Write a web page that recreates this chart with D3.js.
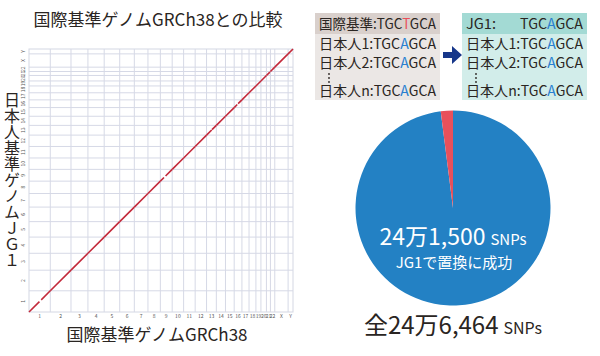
<!DOCTYPE html>
<html>
<head>
<meta charset="utf-8">
<script src="https://cdn.jsdelivr.net/npm/d3@7"></script>
<style>
  body { margin: 0; background: #fff; }
  svg { display: block; font-family: "Noto Sans CJK JP", "Noto Sans", sans-serif; }
</style>
</head>
<body>
<div id="chart"></div>
<script>
// GRCh38 vs JG1 dot plot + SNP replacement pie

// chromosome names and lengths (Mb)
const chromosomes = ["1","2","3","4","5","6","7","8","9","10","11","12",
                     "13","14","15","16","17","18","19","20","21","22","X","Y"];
const chromLengths = [248.96, 242.19, 198.30, 190.21, 181.54, 170.81, 159.35, 145.14,
                      138.39, 133.80, 135.09, 133.28, 114.36, 107.04, 101.99, 90.34,
                      83.26, 80.37, 58.62, 64.44, 46.71, 50.82, 156.04, 57.23];
// unaligned stretches on the diagonal: [chromosome, start Mb, end Mb]
const alignGaps = [["1", 122, 143], ["9", 43, 61], ["13", 60, 64], ["16", 36, 46], ["21", 40, 44]];

// pie
const pieLabels = ["置換に成功", "その他"];
const pieValues = [241500, 4964];

// sequence boxes
const refRows = [
  { name: "国際基準:", seq: ["TGC", "T", "GCA"], hl: "#e8505b" },
  { name: "日本人1:",  seq: ["TGC", "A", "GCA"], hl: "#2a7fd0" },
  { name: "日本人2:",  seq: ["TGC", "A", "GCA"], hl: "#2a7fd0" },
  { name: "日本人n:",  seq: ["TGC", "A", "GCA"], hl: "#2a7fd0" }
];
const jgRows = [
  { name: "JG1:",     seq: ["TGC", "A", "GCA"], hl: "#2a7fd0" },
  { name: "日本人1:",  seq: ["TGC", "A", "GCA"], hl: "#2a7fd0" },
  { name: "日本人2:",  seq: ["TGC", "A", "GCA"], hl: "#2a7fd0" },
  { name: "日本人n:",  seq: ["TGC", "A", "GCA"], hl: "#2a7fd0" }
];

const width = 600, height = 356;
const svg = d3.select("#chart").append("svg")
  .attr("width", width).attr("height", height);

const ink = "#2a2522";

// ── Dot plot ────────────────────────────────────────────────────────────
const cum = [0];
chromLengths.forEach((l, i) => cum.push(cum[i] + l));
const total = cum[cum.length - 1];

const x = d3.scaleLinear().domain([0, total]).range([29, 293]);
const y = d3.scaleLinear().domain([0, total]).range([312, 49]);

const plot = svg.append("g");

plot.append("rect")
  .attr("x", x(0)).attr("y", y(total))
  .attr("width", x(total) - x(0)).attr("height", y(0) - y(total))
  .attr("fill", "#fff").attr("stroke", "#d4d7e3").attr("stroke-width", 1);

const bounds = cum.slice(1, -1);
plot.selectAll(".vgrid").data(bounds).join("line")
  .attr("x1", d => x(d)).attr("x2", d => x(d))
  .attr("y1", y(0)).attr("y2", y(total))
  .attr("stroke", "#d6d9e6").attr("stroke-width", 1);
plot.selectAll(".hgrid").data(bounds).join("line")
  .attr("y1", d => y(d)).attr("y2", d => y(d))
  .attr("x1", x(0)).attr("x2", x(total))
  .attr("stroke", "#d6d9e6").attr("stroke-width", 1);

// tick labels at chromosome midpoints
plot.selectAll(".xt").data(chromosomes).join("text")
  .attr("x", (d, i) => x(cum[i] + chromLengths[i] / 2))
  .attr("y", 318)
  .attr("text-anchor", "middle")
  .attr("font-size", 5)
  .attr("fill", "#555")
  .text(d => d);
plot.selectAll(".yt").data(chromosomes).join("text")
  .attr("transform", (d, i) => `translate(25, ${y(cum[i] + chromLengths[i] / 2)}) rotate(-90)`)
  .attr("text-anchor", "middle")
  .attr("font-size", 5)
  .attr("fill", "#555")
  .text(d => d);

// aligned blocks = each chromosome minus its gaps
const blocks = [];
chromosomes.forEach((c, i) => {
  const gaps = alignGaps.filter(g => g[0] === c).sort((a, b) => a[1] - b[1]);
  let s = 0;
  gaps.forEach(g => { blocks.push([cum[i] + s, cum[i] + g[1]]); s = g[2]; });
  blocks.push([cum[i] + s, cum[i] + chromLengths[i]]);
});

plot.selectAll(".blk").data(blocks).join("line")
  .attr("x1", d => x(d[0])).attr("y1", d => y(d[0]))
  .attr("x2", d => x(d[1])).attr("y2", d => y(d[1]))
  .attr("stroke", "#c3293a").attr("stroke-width", 1.6);

svg.append("text")
  .attr("x", 158).attr("y", 26)
  .attr("text-anchor", "middle")
  .attr("font-size", 17).attr("fill", ink)
  .text("国際基準ゲノムGRCh38との比較");

svg.append("text")
  .attr("x", 157).attr("y", 341)
  .attr("text-anchor", "middle")
  .attr("font-size", 17).attr("fill", ink)
  .text("国際基準ゲノムGRCh38");

// vertical axis title, one text in vertical writing mode
svg.append("text")
  .attr("x", 12).attr("y", 92)
  .style("writing-mode", "vertical-rl")
  .style("text-orientation", "upright")
  .attr("font-size", 16).attr("fill", ink)
  .text("日本人基準ゲノムＪＧ１");

// ── Sequence boxes ──────────────────────────────────────────────────────
const rowBase = [29, 49, 68, 96];
const fs = 14;

function seqBox(x0, w, headFill, bodyFill, rows, right) {
  const g = svg.append("g");
  g.append("rect").attr("x", x0).attr("y", 13).attr("width", w).attr("height", 87).attr("fill", bodyFill);
  g.append("rect").attr("x", x0).attr("y", 13).attr("width", w).attr("height", 21).attr("fill", headFill);
  rows.forEach((r, i) => {
    if (right && i === 0) {
      g.append("text").attr("x", x0 + 4).attr("y", rowBase[i])
        .attr("font-size", fs).attr("fill", ink)
        .attr("textLength", 30).attr("lengthAdjust", "spacingAndGlyphs")
        .text(r.name);
      const t = g.append("text").attr("x", x0 + 58).attr("y", rowBase[i])
        .attr("font-size", fs).attr("fill", ink)
        .attr("textLength", 63).attr("lengthAdjust", "spacingAndGlyphs");
      t.append("tspan").text(r.seq[0]);
      t.append("tspan").attr("fill", r.hl).text(r.seq[1]);
      t.append("tspan").text(r.seq[2]);
      return;
    }
    const t = g.append("text").attr("x", x0 + 4).attr("y", rowBase[i])
      .attr("font-size", fs).attr("fill", ink)
      .attr("textLength", 117).attr("lengthAdjust", "spacingAndGlyphs");
    t.append("tspan").text(r.name);
    t.append("tspan").text(r.seq[0]);
    t.append("tspan").attr("fill", r.hl).text(r.seq[1]);
    t.append("tspan").text(r.seq[2]);
  });
  // vertical ellipsis
  g.selectAll(".dot").data([74, 78, 82]).join("circle")
    .attr("cx", x0 + 14).attr("cy", d => d).attr("r", 0.9).attr("fill", ink);
}

seqBox(315, 125, "#d9d0cc", "#ebe7e5", refRows, false);
seqBox(462, 125, "#a3dad4", "#d2edea", jgRows, true);

// arrow
svg.append("path")
  .attr("d", "M443,52 L452,52 L452,46 L462,55 L452,64 L452,58 L443,58 Z")
  .attr("fill", "#17378a");

// ── Pie ─────────────────────────────────────────────────────────────────
const pieData = d3.pie().sort(null)(pieValues);
const arc = d3.arc().innerRadius(0).outerRadius(97.5);
const pieColor = d3.scaleOrdinal().domain(pieLabels).range(["#2381c4", "#e8505b"]);

const pie = svg.append("g").attr("transform", "translate(453, 208)");
pie.selectAll("path").data(pieData).join("path")
  .attr("d", arc)
  .attr("fill", (d, i) => pieColor(pieLabels[i]));

const fmt = d => {
  const man = Math.floor(d / 10000);
  return man + "万" + d3.format(",")(d % 10000);
};

const t1 = svg.append("text").attr("x", 453).attr("y", 245)
  .attr("text-anchor", "middle").attr("fill", "#fff");
t1.append("tspan").attr("font-size", 23).text(fmt(pieValues[0]));
t1.append("tspan").attr("font-size", 15).attr("dx", 5).text("SNPs");

svg.append("text").attr("x", 454).attr("y", 268)
  .attr("text-anchor", "middle").attr("fill", "#fff")
  .attr("font-size", 15)
  .text("JG1で置換に成功");

const t2 = svg.append("text").attr("x", 453).attr("y", 334)
  .attr("text-anchor", "middle").attr("fill", ink);
t2.append("tspan").attr("font-size", 24).text("全" + fmt(d3.sum(pieValues)));
t2.append("tspan").attr("font-size", 16).attr("dx", 5).text("SNPs");
</script>
</body>
</html>
